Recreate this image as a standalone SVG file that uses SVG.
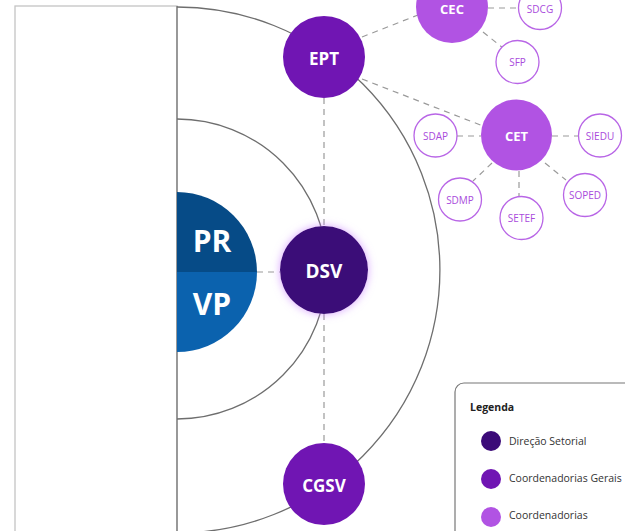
<svg xmlns="http://www.w3.org/2000/svg" width="625" height="531" viewBox="0 0 625 531">
<defs>
<filter id="glow" x="-50%" y="-50%" width="200%" height="200%">
<feGaussianBlur in="SourceAlpha" stdDeviation="4" result="b"/>
<feFlood flood-color="#c77dff" flood-opacity="0.7"/>
<feComposite in2="b" operator="in" result="g"/>
<feMerge><feMergeNode in="g"/><feMergeNode in="SourceGraphic"/></feMerge>
</filter>
</defs>
<style>
.ring{fill:none;stroke:#6e6e6e;stroke-width:1.3}
.conn line{stroke:#9a9a9a;stroke-width:1.2;stroke-dasharray:6 5}
.lbl{font-family:"Open Sans","Noto Sans",sans-serif;font-weight:700;fill:#fff;text-anchor:middle;dominant-baseline:central}
.sm circle{fill:#fff;stroke:#b865e6;stroke-width:1.3}
.sm text{font-family:"Open Sans","Noto Sans",sans-serif;font-size:10px;fill:#a94bdc;text-anchor:middle;dominant-baseline:central}
.leg{font-family:"Open Sans","Noto Sans",sans-serif;font-size:10.5px;fill:#333;dominant-baseline:central}
</style>
<rect width="625" height="531" fill="#fff"/>
<rect x="15" y="6" width="162" height="540" fill="#fff" stroke="#c4c4c4" stroke-width="1.3"/>
<line x1="177" y1="6" x2="177" y2="531" stroke="#777" stroke-width="1.3"/>
<path class="ring" d="M177 7 A263 263 0 0 1 177 533"/>
<path class="ring" d="M177 119 A150 150 0 0 1 177 419"/>

<g class="conn">
<line x1="257" y1="272" x2="280" y2="272"/>
<line x1="324" y1="98" x2="324" y2="226"/>
<line x1="324" y1="314" x2="324" y2="443"/>
<line x1="362" y1="37" x2="418" y2="15"/>
<line x1="362" y1="79" x2="483" y2="126"/>
<line x1="488" y1="8" x2="518" y2="8"/>
<line x1="483" y1="32" x2="503" y2="48"/>
<line x1="457" y1="136" x2="481" y2="136"/>
<line x1="552" y1="136" x2="579" y2="136"/>
<line x1="492" y1="163" x2="473" y2="181"/>
<line x1="519" y1="171" x2="519" y2="197"/>
<line x1="545" y1="163" x2="566" y2="180"/>
</g>

<g id="PRVP">
<path d="M177 192 A80 80 0 0 1 257 272 L177 272 Z" fill="#064b87"/>
<path d="M177 272 L257 272 A80 80 0 0 1 177 352 Z" fill="#0b62ae"/>
<text class="lbl" x="212" y="240" font-size="30">PR</text>
<text class="lbl" x="212" y="303" font-size="30">VP</text>
</g>

<g id="DSV">
<circle cx="324" cy="270" r="44" fill="#3b0a78" filter="url(#glow)"/>
<text class="lbl" x="324" y="271" font-size="19">DSV</text>
</g>
<g id="EPT">
<circle cx="324" cy="57" r="41" fill="#7015b3"/>
<text class="lbl" x="324" y="58" font-size="17">EPT</text>
</g>
<g id="CGSV">
<circle cx="324" cy="484" r="41" fill="#7015b3"/>
<text class="lbl" x="324" y="485" font-size="17">CGSV</text>
</g>
<g id="CEC">
<circle cx="452" cy="7" r="36" fill="#b153e3"/>
<text class="lbl" x="452" y="9" font-size="13">CEC</text>
</g>
<g id="CET">
<circle cx="516.5" cy="135" r="35.5" fill="#b153e3"/>
<text class="lbl" x="516.5" y="136" font-size="13">CET</text>
</g>
<g id="SDCG" class="sm"><circle cx="540" cy="8" r="21.5"/><text x="540" y="9">SDCG</text></g>
<g id="SFP" class="sm"><circle cx="517.5" cy="62" r="21.5"/><text x="517.5" y="62">SFP</text></g>
<g id="SDAP" class="sm"><circle cx="435.5" cy="135.5" r="21.5"/><text x="435.5" y="136">SDAP</text></g>
<g id="SIEDU" class="sm"><circle cx="600" cy="135.5" r="21.5"/><text x="600" y="136">SIEDU</text></g>
<g id="SDMP" class="sm"><circle cx="460" cy="199.5" r="21.5"/><text x="460" y="200">SDMP</text></g>
<g id="SETEF" class="sm"><circle cx="521.5" cy="218" r="21.5"/><text x="521.5" y="218">SETEF</text></g>
<g id="SOPED" class="sm"><circle cx="585" cy="195" r="21.5"/><text x="585" y="195">SOPED</text></g>

<g id="legend">
<rect x="455" y="383" width="190" height="170" rx="9" fill="#fff" stroke="#777" stroke-width="1.2"/>
<text x="470" y="407" font-family="'Open Sans','Noto Sans',sans-serif" font-weight="700" font-size="10.5" fill="#222" dominant-baseline="central">Legenda</text>
<circle cx="491" cy="441" r="10" fill="#3b0a78"/>
<text class="leg" x="509" y="441">Direção Setorial</text>
<circle cx="491" cy="479" r="10" fill="#7015b3"/>
<text class="leg" x="509" y="478">Coordenadorias Gerais</text>
<circle cx="491" cy="517" r="10" fill="#b153e3"/>
<text class="leg" x="509" y="515">Coordenadorias</text>
</g>
</svg>
